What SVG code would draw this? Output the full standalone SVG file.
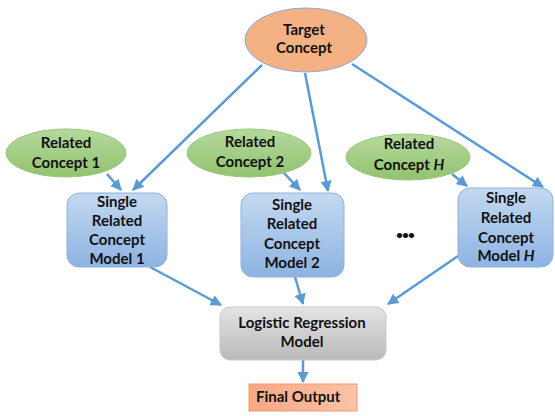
<svg xmlns="http://www.w3.org/2000/svg" width="555" height="416" viewBox="0 0 555 416">
<defs>
<linearGradient id="gGreen" x1="0" y1="0" x2="0" y2="1"><stop offset="0" stop-color="#b5d99c"/><stop offset="1" stop-color="#91c36f"/></linearGradient>
<linearGradient id="gBlue" x1="0" y1="0" x2="0" y2="1"><stop offset="0" stop-color="#c3d9f0"/><stop offset="1" stop-color="#8db3e2"/></linearGradient>
<linearGradient id="gGray" x1="0" y1="0" x2="0" y2="1"><stop offset="0" stop-color="#e4e4e4"/><stop offset="1" stop-color="#b9b9b9"/></linearGradient>
<linearGradient id="gOrange" x1="0" y1="0" x2="1" y2="0"><stop offset="0" stop-color="#f7a785"/><stop offset="1" stop-color="#fbc3a6"/></linearGradient>
<marker id="arr" viewBox="0 0 10 10" refX="9" refY="5" markerWidth="4.5" markerHeight="4.5" orient="auto"><path d="M0,0 L10,5 L0,10 z" fill="#5b9bd5"/></marker>
</defs>
<style>
text{font-family:Lato,"Open Sans","Liberation Sans",sans-serif;font-weight:bold;font-size:15px;fill:#111;text-anchor:middle}
.ell-g{fill:url(#gGreen);stroke:#9cc47f;stroke-width:1}
.box-b{fill:url(#gBlue);stroke:#8fb2de;stroke-width:1}
.conn line{stroke:#5b9bd5;stroke-width:2.5;marker-end:url(#arr)}
</style>
<rect width="555" height="416" fill="#fff"/>
<g class="conn" id="connectors">
<line x1="262" y1="65" x2="133" y2="190"/>
<line x1="305" y1="73" x2="328" y2="191"/>
<line x1="352" y1="64" x2="543" y2="187"/>
<line x1="107" y1="174" x2="121" y2="190"/>
<line x1="283" y1="172" x2="300" y2="190"/>
<line x1="452" y1="174" x2="467" y2="186"/>
<line x1="150" y1="267" x2="221" y2="305"/>
<line x1="295" y1="277" x2="303" y2="304"/>
<line x1="458" y1="256" x2="388" y2="304"/>
<line x1="303" y1="360" x2="303" y2="382"/>
</g>
<g id="target">
<ellipse cx="306" cy="40" rx="61" ry="32" fill="#f4b183" stroke="#8aa9d6" stroke-width="1"/>
<text x="304" y="35">Target</text>
<text x="304" y="53">Concept</text>
</g>
<g id="related1">
<ellipse class="ell-g" cx="66" cy="153" rx="60" ry="24"/>
<text x="66" y="148">Related</text>
<text x="66" y="168">Concept 1</text>
</g>
<g id="related2">
<ellipse class="ell-g" cx="249" cy="153" rx="62" ry="24"/>
<text x="250" y="147">Related</text>
<text x="250" y="167">Concept 2</text>
</g>
<g id="relatedH">
<ellipse class="ell-g" cx="408" cy="157" rx="62" ry="23"/>
<text x="409" y="149">Related</text>
<text x="409" y="170">Concept <tspan font-style="italic">H</tspan></text>
</g>
<g id="model1">
<rect class="box-b" x="67" y="193" width="100" height="74" rx="12"/>
<text x="117" y="207">Single</text>
<text x="117" y="226">Related</text>
<text x="117" y="245">Concept</text>
<text x="117" y="264">Model 1</text>
</g>
<g id="model2">
<rect class="box-b" x="241" y="193" width="103" height="84" rx="12"/>
<text x="292" y="210">Single</text>
<text x="292" y="229">Related</text>
<text x="292" y="249">Concept</text>
<text x="292" y="268">Model 2</text>
</g>
<g id="modelH">
<rect class="box-b" x="458" y="188" width="95" height="79" rx="12"/>
<text x="506" y="203">Single</text>
<text x="506" y="223">Related</text>
<text x="506" y="243">Concept</text>
<text x="506" y="261">Model <tspan font-style="italic">H</tspan></text>
</g>
<g id="dots">
<text x="405" y="239" style="font-size:12px;letter-spacing:-1px">•••</text>
</g>
<g id="logistic">
<rect x="220" y="307" width="166" height="53" rx="10" fill="url(#gGray)" stroke="#c8c8c8" stroke-width="1"/>
<text x="302" y="328">Logistic Regression</text>
<text x="302" y="347">Model</text>
</g>
<g id="final">
<rect x="249" y="384" width="108" height="27" fill="url(#gOrange)" stroke="#f09a6e" stroke-width="1"/>
<text x="256" y="402" style="text-anchor:start">Final Output</text>
</g>
</svg>
